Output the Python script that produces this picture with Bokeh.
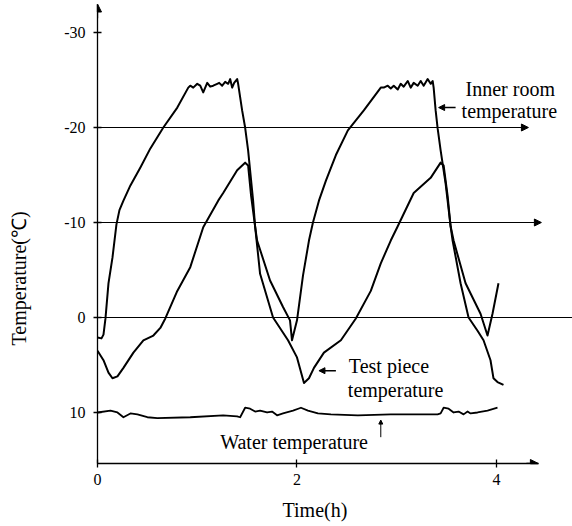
from bokeh.plotting import figure
from bokeh.models import Range1d, FixedTicker, Arrow, NormalHead, Label, Title, LinearAxis
from bokeh.embed import file_html
from bokeh.resources import INLINE

# ---- data (time in h, temperature in deg C; axis is inverted) ----
inner_t = [0.00, 0.04, 0.06, 0.08, 0.11, 0.15, 0.19, 0.22, 0.26, 0.33, 0.43, 0.53, 0.66, 0.80, 0.91,
           0.93, 0.96, 1.00, 1.03, 1.06, 1.10, 1.13, 1.16, 1.20, 1.22, 1.25, 1.28, 1.31, 1.33, 1.35,
           1.37, 1.40, 1.41, 1.43, 1.45, 1.48, 1.51, 1.56, 1.58, 1.60, 1.73, 1.86, 1.93, 1.95, 2.00,
           2.06, 2.12, 2.16, 2.22, 2.29, 2.39, 2.51, 2.67, 2.84, 2.87, 2.91, 2.94, 2.97, 3.01, 3.04,
           3.07, 3.11, 3.14, 3.17, 3.21, 3.24, 3.27, 3.31, 3.34, 3.36, 3.37, 3.39, 3.41, 3.44, 3.49,
           3.51, 3.54, 3.57, 3.69, 3.76, 3.84, 3.91, 3.96, 4.02]
inner_v = [2.1, 2.2, 1.8, 0.1, -3.6, -6.3, -9.8, -11.3, -12.3, -13.9, -15.8, -17.8, -20.0, -22.1, -24.2,
           -24.4, -24.2, -24.6, -24.4, -23.7, -24.7, -24.3, -24.4, -24.6, -24.7, -24.4, -24.8, -24.6, -25.1, -24.2,
           -24.7, -25.1, -24.6, -23.2, -21.8, -20.0, -17.6, -12.3, -9.6, -8.1, -3.9, -1.1, 0.3, 2.4, 0.3,
           -4.4, -8.1, -10.0, -12.3, -14.4, -17.1, -19.7, -21.8, -24.2, -24.2, -24.4, -24.1, -24.4, -24.0, -24.6,
           -24.3, -24.9, -24.2, -24.7, -24.4, -24.9, -24.4, -25.1, -24.6, -24.9, -24.2, -21.8, -19.9, -17.6, -14.1,
           -12.3, -9.6, -8.1, -3.6, -2.1, -0.4, 1.9, -0.4, -3.6]

test_t = [0.00, 0.06, 0.11, 0.15, 0.20, 0.26, 0.36, 0.46, 0.56, 0.63, 0.68, 0.80, 0.93, 1.06, 1.21,
          1.26, 1.40, 1.48, 1.51, 1.54, 1.58, 1.63, 1.76, 1.91, 2.00, 2.07, 2.12, 2.17, 2.27, 2.44,
          2.59, 2.74, 2.84, 2.94, 3.01, 3.17, 3.34, 3.44, 3.47, 3.51, 3.54, 3.56, 3.64, 3.72, 3.81,
          3.87, 3.94, 3.97, 4.01, 4.07]
test_v = [3.5, 4.5, 5.8, 6.4, 6.2, 5.3, 3.7, 2.4, 1.9, 1.1, 0.1, -2.8, -5.3, -9.5, -12.3,
          -13.1, -15.5, -16.3, -16.0, -12.8, -9.6, -4.6, 0.0, 2.4, 4.2, 6.9, 6.4, 5.3, 3.7, 2.4,
          0.1, -2.8, -5.7, -8.1, -9.6, -13.1, -14.7, -16.3, -16.0, -12.8, -9.6, -8.1, -3.6, 0.0, 1.4,
          2.4, 4.5, 6.4, 6.8, 7.1]

water_t = [0.00, 0.13, 0.20, 0.26, 0.33, 0.40, 0.50, 0.60, 0.93, 1.26, 1.40, 1.43, 1.48, 1.53, 1.58,
           1.63, 1.70, 1.75, 1.80, 1.86, 1.96, 2.04, 2.11, 2.21, 2.34, 2.61, 2.94, 3.27, 3.41, 3.44,
           3.47, 3.52, 3.57, 3.62, 3.67, 3.71, 3.74, 3.81, 3.91, 4.01]
water_v = [10.0, 9.8, 10.0, 10.5, 10.1, 10.2, 10.5, 10.6, 10.5, 10.3, 10.4, 10.5, 9.5, 9.6, 9.9,
           9.8, 10.0, 9.9, 10.3, 10.1, 9.8, 9.5, 9.8, 10.1, 10.2, 10.3, 10.2, 10.2, 10.2, 10.1,
           9.5, 9.6, 10.0, 9.9, 10.2, 9.9, 10.1, 10.0, 9.8, 9.5]

x_ticks = [0, 2, 4]
y_ticks = [-30, -20, -10, 0, 10]
y_tick_labels = ["-30", "-20", "-10", "0", "10"]
grid_levels = [-20, -10, 0]

FONT = "Liberation Serif"

p = figure(width=572, height=526, output_backend="svg", toolbar_location=None,
           x_range=Range1d(0, 4.762), y_range=Range1d(15.37, -33.37),
           min_border_left=97, min_border_right=0, min_border_top=0, min_border_bottom=63)
p.outline_line_color = None
p.xgrid.visible = False
p.ygrid.visible = False
p.background_fill_color = "white"

# axes
p.xaxis.ticker = FixedTicker(ticks=x_ticks)
p.yaxis.ticker = FixedTicker(ticks=y_ticks)
p.yaxis.major_label_overrides = {t: s for t, s in zip(y_ticks, y_tick_labels)}
for ax in (p.xaxis[0], p.yaxis[0]):
    ax.axis_line_color = "black"
    ax.axis_line_width = 1.3
    ax.major_tick_in = 4
    ax.major_tick_out = 4
    ax.major_tick_line_color = "black"
    ax.major_tick_line_width = 1.3
    ax.minor_tick_line_color = None
    ax.major_label_text_font = FONT
    ax.major_label_text_font_size = "16px"
    ax.major_label_text_color = "black"
p.xaxis.bounds = (0, 4.42)
p.yaxis.bounds = (-33.0, 15.37)
p.xaxis.major_label_standoff = 6
p.yaxis.major_label_standoff = 8

# blank spacer axes (invisible tick, no label, no line) to push the axis titles outward
def spacer(extent, tick):
    return LinearAxis(ticker=FixedTicker(ticks=[tick]), axis_line_color=None,
                      major_tick_in=0, major_tick_out=extent, major_tick_line_color=None,
                      minor_tick_in=0, minor_tick_out=0, minor_tick_line_color=None,
                      major_label_standoff=0, major_label_overrides={tick: ""})

p.add_layout(spacer(31, 0), "left")
p.add_layout(spacer(4, 0), "below")

# axis titles placed in the side panels
p.add_layout(Title(text="Time(h)", align="left", offset=185, standoff=11,
                   text_font=FONT, text_font_size="20px", text_font_style="normal",
                   text_color="black"), "below")
p.add_layout(Title(text="Temperature(℃)", align="left", offset=118, standoff=2,
                   text_font=FONT, text_font_size="20px", text_font_style="normal",
                   text_color="black"), "left")

head = dict(size=8, fill_color="black", line_color="black")
# axis arrow heads
p.add_layout(Arrow(end=NormalHead(**head), x_start=4.3, y_start=15.37, x_end=4.42, y_end=15.37,
                   line_color="black", line_width=1.3))
p.add_layout(Arrow(end=NormalHead(**head), x_start=0, y_start=-31.5, x_end=0, y_end=-33.0,
                   line_color="black", line_width=1.3))

# horizontal reference lines
grid_ends = [4.32, 4.45, 4.77]
for lvl, xe in zip(grid_levels, grid_ends):
    if xe < 4.7:
        p.add_layout(Arrow(end=NormalHead(size=7, fill_color="black", line_color="black"),
                           x_start=0, y_start=lvl, x_end=xe, y_end=lvl,
                           line_color="black", line_width=1.2))
    else:
        p.segment(x0=[0], y0=[lvl], x1=[xe], y1=[lvl], line_color="black", line_width=1.2)

# curves
p.line(inner_t, inner_v, line_color="black", line_width=2, line_join="round")
p.line(test_t, test_v, line_color="black", line_width=2, line_join="round")
p.line(water_t, water_v, line_color="black", line_width=1.8, line_join="round")

# annotations
def lab(x, y, text):
    p.add_layout(Label(x=x, y=y, text=text, text_font=FONT, text_font_size="20px",
                       text_color="black", text_align="left", text_baseline="middle"))

lab(3.69, -24.1, "Inner room")
lab(3.65, -21.7, "temperature")
p.add_layout(Arrow(end=NormalHead(size=6, fill_color="black", line_color="black"),
                   x_start=3.59, y_start=-22.1, x_end=3.42, y_end=-22.1,
                   line_color="black", line_width=1.5))

lab(2.52, 5.1, "Test piece")
lab(2.51, 7.6, "temperature")
p.add_layout(Arrow(end=NormalHead(size=6, fill_color="black", line_color="black"),
                   x_start=2.39, y_start=5.6, x_end=2.22, y_end=5.6,
                   line_color="black", line_width=1.5))

lab(1.23, 13.1, "Water temperature")
p.add_layout(Arrow(end=NormalHead(size=4, fill_color="black", line_color="black"),
                   x_start=2.84, y_start=12.6, x_end=2.84, y_end=10.8,
                   line_color="black", line_width=1.0))

open("out.html", "w").write(file_html(p, INLINE))
